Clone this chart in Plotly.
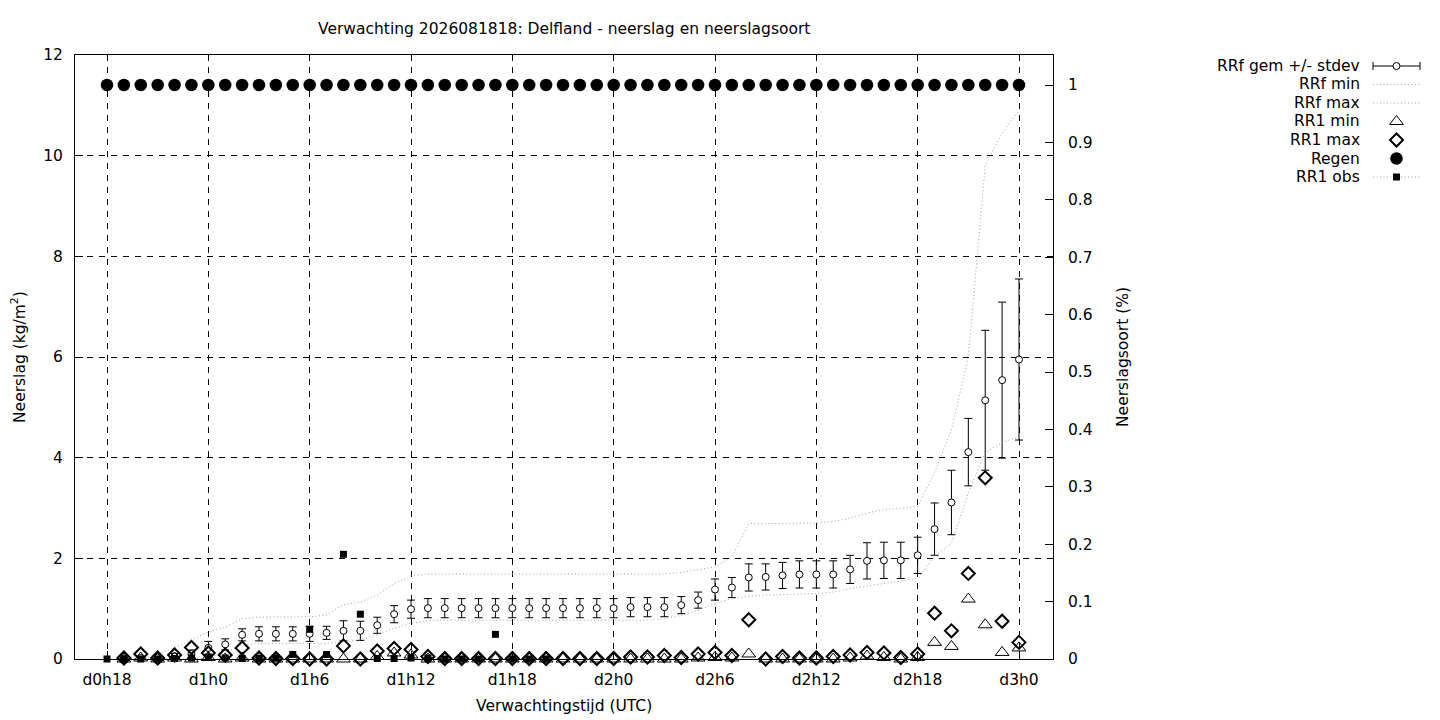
import plotly.graph_objects as go

# ---------------- data ----------------
hours = [18, 19, 20, 21, 22, 23, 24, 25, 26, 27, 28, 29, 30, 31, 32, 33, 34, 35, 36, 37,
         38, 39, 40, 41, 42, 43, 44, 45, 46, 47, 48, 49, 50, 51, 52, 53, 54, 55, 56, 57,
         58, 59, 60, 61, 62, 63, 64, 65, 66, 67, 68, 69, 70, 71, 72]

tick_hours = [18, 24, 30, 36, 42, 48, 54, 60, 66, 72]
tick_labels = ["d0h18", "d1h0", "d1h6", "d1h12", "d1h18", "d2h0", "d2h6", "d2h12", "d2h18", "d3h0"]

rrf_mean = [None, 0.01, 0.02, 0.03, 0.05, 0.10, 0.22, 0.29, 0.48, 0.50, 0.50, 0.50, 0.50, 0.52,
            0.56, 0.56, 0.67, 0.89, 0.99, 1.01, 1.01, 1.01, 1.01, 1.01, 1.01, 1.01, 1.01, 1.01,
            1.01, 1.01, 1.01, 1.03, 1.03, 1.03, 1.07, 1.17, 1.38, 1.42, 1.62, 1.63, 1.66, 1.68,
            1.68, 1.68, 1.78, 1.95, 1.96, 1.96, 2.06, 2.58, 3.11, 4.11, 5.14, 5.54, 5.95]

rrf_stdev = [None, 0.01, 0.03, 0.04, 0.06, 0.08, 0.13, 0.11, 0.12, 0.14, 0.14, 0.14, 0.15, 0.13,
             0.20, 0.19, 0.16, 0.17, 0.18, 0.19, 0.19, 0.19, 0.19, 0.19, 0.19, 0.19, 0.19, 0.19,
             0.19, 0.19, 0.19, 0.19, 0.19, 0.19, 0.17, 0.16, 0.21, 0.20, 0.27, 0.26, 0.26, 0.27,
             0.27, 0.27, 0.28, 0.36, 0.36, 0.36, 0.36, 0.52, 0.64, 0.67, 1.39, 1.55, 1.60]

rrf_min = [None, 0.00, 0.00, 0.00, 0.00, 0.00, 0.03, 0.12, 0.28, 0.31, 0.31, 0.31, 0.31, 0.31,
           0.34, 0.38, 0.48, 0.61, 0.71, 0.76, 0.77, 0.77, 0.77, 0.77, 0.77, 0.77, 0.77, 0.77,
           0.77, 0.77, 0.77, 0.77, 0.77, 0.80, 0.87, 0.97, 1.10, 1.20, 1.25, 1.27, 1.28, 1.29,
           1.30, 1.33, 1.40, 1.45, 1.50, 1.55, 1.60, 2.04, 2.30, 3.30, 4.10, 4.30, 4.42]

rrf_max = [None, 0.00, 0.02, 0.10, 0.22, 0.38, 0.54, 0.63, 0.80, 0.83, 0.83, 0.83, 0.84, 0.87,
           1.08, 1.13, 1.27, 1.50, 1.65, 1.69, 1.69, 1.69, 1.69, 1.69, 1.69, 1.69, 1.69, 1.69,
           1.69, 1.69, 1.69, 1.69, 1.69, 1.69, 1.72, 1.77, 1.83, 2.03, 2.69, 2.69, 2.69, 2.69,
           2.70, 2.73, 2.80, 2.90, 2.97, 2.99, 3.03, 3.70, 4.55, 6.00, 9.80, 10.45, 10.90]

rr1_min = [None, 0.00, 0.02, 0.00, 0.02, 0.00, 0.03, 0.00, 0.02, 0.00, 0.00, 0.00, 0.00, 0.00,
           0.00, 0.00, 0.05, 0.12, 0.08, 0.00, 0.00, 0.00, 0.00, 0.00, 0.00, 0.00, 0.00, 0.00,
           0.00, 0.00, 0.00, 0.00, 0.00, 0.00, 0.00, 0.02, 0.03, 0.02, 0.10, 0.00, 0.00, 0.00,
           0.00, 0.00, 0.02, 0.06, 0.03, 0.00, 0.03, 0.33, 0.25, 1.19, 0.68, 0.13, 0.22]

rr1_max = [None, 0.02, 0.10, 0.02, 0.08, 0.23, 0.12, 0.08, 0.22, 0.02, 0.01, 0.01, 0.00, 0.00,
           0.26, 0.00, 0.16, 0.21, 0.19, 0.05, 0.01, 0.01, 0.01, 0.01, 0.01, 0.01, 0.01, 0.01,
           0.01, 0.01, 0.01, 0.04, 0.04, 0.07, 0.03, 0.10, 0.13, 0.07, 0.78, 0.00, 0.05, 0.02,
           0.02, 0.05, 0.08, 0.13, 0.12, 0.03, 0.10, 0.91, 0.56, 1.70, 3.60, 0.75, 0.33]

regen = [1, 1, 1, 1, 1, 1, 1, 1, 1, 1, 1, 1, 1, 1, 1, 1, 1, 1, 1, 1, 1, 1, 1, 1, 1, 1, 1, 1,
         1, 1, 1, 1, 1, 1, 1, 1, 1, 1, 1, 1, 1, 1, 1, 1, 1, 1, 1, 1, 1, 1, 1, 1, 1, 1, 1]

rr1_obs = [0.00, 0.00, 0.00, 0.00, 0.01, 0.02, 0.04, 0.02, 0.01, 0.01, 0.02, 0.09, 0.59, 0.09,
           2.08, 0.89, 0.01, 0.01, 0.02, 0.02, 0.00, 0.00, 0.00, 0.49, 0.00, 0.00, 0.00, None,
           None, None, None, None, None, None, None, None, None, None, None, None, None, None,
           None, None, None, None, None, None, None, None, None, None, None, None, None]

legend_labels = ["RRf gem +/- stdev", "RRf min", "RRf max", "RR1 min", "RR1 max", "Regen", "RR1 obs"]

for arr in (rrf_mean, rrf_stdev, rrf_min, rrf_max, rr1_min, rr1_max, regen, rr1_obs):
    assert len(arr) == len(hours)

# ---------------- style ----------------
FONT = "DejaVu Sans"
FS = 15.5
W, H = 1440, 720
PL, PR, PT, PB = 75, 1053, 55, 659          # plot area in pixels
GRAY = "#a0a0a0"
DOT = "1px,2.5px"
TRI = 12

fig = go.Figure()

# RRf mean +/- stdev
fig.add_trace(go.Scatter(
    x=hours, y=rrf_mean, mode="markers", name=legend_labels[0], cliponaxis=False,
    marker=dict(symbol="circle", size=7, color="white", line=dict(color="black", width=1)),
    error_y=dict(type="data", array=rrf_stdev, visible=True, color="black", thickness=1, width=4),
    showlegend=False))
# RRf min / max
fig.add_trace(go.Scatter(x=hours, y=rrf_min, mode="lines", name=legend_labels[1],
                         line=dict(color=GRAY, width=1, dash=DOT), showlegend=False))
fig.add_trace(go.Scatter(x=hours, y=rrf_max, mode="lines", name=legend_labels[2],
                         line=dict(color=GRAY, width=1, dash=DOT), showlegend=False))
# RR1 min / max
fig.add_trace(go.Scatter(x=hours, y=rr1_min, mode="markers", name=legend_labels[3], cliponaxis=False,
                         marker=dict(symbol="triangle-up-open", size=TRI, color="black",
                                     line=dict(color="black", width=1)), showlegend=False))
fig.add_trace(go.Scatter(x=hours, y=rr1_max, mode="markers", name=legend_labels[4], cliponaxis=False,
                         marker=dict(symbol="diamond-open", size=10, color="black",
                                     line=dict(color="black", width=2)), showlegend=False))
# RR1 obs
fig.add_trace(go.Scatter(x=hours, y=rr1_obs, mode="markers", name=legend_labels[6], cliponaxis=False,
                         marker=dict(symbol="square", size=7, color="black"), showlegend=False))
# Regen (right axis)
fig.add_trace(go.Scatter(x=hours, y=regen, mode="markers", name=legend_labels[5], yaxis="y2",
                         cliponaxis=False, marker=dict(symbol="circle", size=12.5, color="black"),
                         showlegend=False))

# ---------------- manual gnuplot-style legend (pixel coordinates on hidden axes) ----------------
LX_TEXT, LX0, LX1 = 1362, 1373, 1420
LXC = (LX0 + LX1) / 2
rows = [66, 84.5, 103, 121.5, 140, 158.5, 177]
lg = dict(xaxis="x3", yaxis="y3", showlegend=False, hoverinfo="skip", cliponaxis=False)
fig.add_trace(go.Scatter(x=[LX0, LX1], y=[rows[0], rows[0]], mode="lines",
                         line=dict(color="black", width=1),
                         error_y=dict(type="constant", value=4, color="black", thickness=1, width=0), **lg))
fig.add_trace(go.Scatter(x=[LXC], y=[rows[0]], mode="markers",
                         marker=dict(symbol="circle", size=7, color="white", line=dict(color="black", width=1)), **lg))
for r in (rows[1], rows[2]):
    fig.add_trace(go.Scatter(x=[LX0, LX1], y=[r, r], mode="lines",
                             line=dict(color=GRAY, width=1, dash=DOT), **lg))
fig.add_trace(go.Scatter(x=[LXC], y=[rows[3]], mode="markers",
                         marker=dict(symbol="triangle-up-open", size=TRI, color="black", line=dict(width=1)), **lg))
fig.add_trace(go.Scatter(x=[LXC], y=[rows[4]], mode="markers",
                         marker=dict(symbol="diamond-open", size=10, color="black", line=dict(width=2)), **lg))
fig.add_trace(go.Scatter(x=[LXC], y=[rows[5]], mode="markers",
                         marker=dict(symbol="circle", size=12.5, color="black"), **lg))
fig.add_trace(go.Scatter(x=[LX0, LX1], y=[rows[6], rows[6]], mode="lines",
                         line=dict(color=GRAY, width=1, dash=DOT), **lg))
fig.add_trace(go.Scatter(x=[LXC], y=[rows[6]], mode="markers",
                         marker=dict(symbol="square", size=7, color="black"), **lg))

annotations = []
for lab, r in zip(legend_labels, rows):
    annotations.append(dict(x=LX_TEXT, y=r, xref="x3", yref="y3", text=lab, showarrow=False,
                            xanchor="right", yanchor="middle", font=dict(family=FONT, size=FS, color="black")))

annotations += [
    dict(x=(PL + PR) / 2 / W, y=1 - 29 / H, xref="paper", yref="paper", showarrow=False,
         text="Verwachting 2026081818: Delfland - neerslag en neerslagsoort",
         xanchor="center", yanchor="middle", font=dict(family=FONT, size=FS, color="black")),
    dict(x=(PL + PR) / 2 / W, y=1 - 706 / H, xref="paper", yref="paper", showarrow=False,
         text="Verwachtingstijd (UTC)", xanchor="center", yanchor="middle",
         font=dict(family=FONT, size=FS, color="black")),
    dict(x=18 / W, y=1 - (PT + PB) / 2 / H, xref="paper", yref="paper", showarrow=False,
         text="Neerslag (kg/m<sup>2</sup>)", textangle=-90, xanchor="center", yanchor="middle",
         font=dict(family=FONT, size=FS, color="black")),
    dict(x=1123 / W, y=1 - (PT + PB) / 2 / H, xref="paper", yref="paper", showarrow=False,
         text="Neerslagsoort (%)", textangle=-90, xanchor="center", yanchor="middle",
         font=dict(family=FONT, size=FS, color="black")),
]

x_lo = 18 - (107 - PL) / (912 / 54)
x_hi = 72 + (PR - 1019) / (912 / 54)
y2_hi = (PB - PT) / (PB - 85)

grid = dict(showgrid=True, gridcolor="black", gridwidth=1, griddash="6px,6px")

fig.update_layout(
    width=W, height=H, autosize=False,
    margin=dict(l=0, r=0, t=0, b=0, pad=0, autoexpand=False),
    paper_bgcolor="white", plot_bgcolor="white",
    font=dict(family=FONT, size=FS, color="black"),
    showlegend=False,
    annotations=annotations,
    xaxis=dict(domain=[PL / W, PR / W], range=[x_lo, x_hi], tickmode="array",
               tickvals=tick_hours, ticktext=tick_labels, ticks="inside", ticklen=8,
               tickcolor="black", showline=True, mirror=True, linecolor="black", linewidth=1,
               zeroline=False, automargin=False, ticklabelstandoff=6,
               tickfont=dict(family=FONT, size=FS), **grid),
    yaxis=dict(domain=[1 - PB / H, 1 - PT / H], range=[0, 12], tickmode="array",
               tickvals=[0, 2, 4, 6, 8, 10, 12], ticks="inside", ticklen=8, tickcolor="black",
               showline=True, mirror=True, linecolor="black", linewidth=1, zeroline=False,
               automargin=False, ticklabelstandoff=8, tickfont=dict(family=FONT, size=FS), **grid),
    yaxis2=dict(overlaying="y", side="right", anchor="x", range=[0, y2_hi], tickmode="array",
                tickvals=[0, 0.1, 0.2, 0.3, 0.4, 0.5, 0.6, 0.7, 0.8, 0.9, 1],
                ticktext=["0", "0.1", "0.2", "0.3", "0.4", "0.5", "0.6", "0.7", "0.8", "0.9", "1"],
                ticks="inside", ticklen=8, tickcolor="black", showgrid=False, zeroline=False,
                showline=False, automargin=False, ticklabelstandoff=14,
                tickfont=dict(family=FONT, size=FS)),
    xaxis3=dict(domain=[1200 / W, 1.0], range=[1200, W], visible=False, anchor="y3",
                fixedrange=True, automargin=False),
    yaxis3=dict(domain=[1 - 200 / H, 1 - 50 / H], range=[200, 50], visible=False, anchor="x3",
                fixedrange=True, automargin=False),
)

fig.write_html("out.html", config={"displayModeBar": False},
               post_script="document.body.style.margin='0';document.body.style.overflow='hidden';")
